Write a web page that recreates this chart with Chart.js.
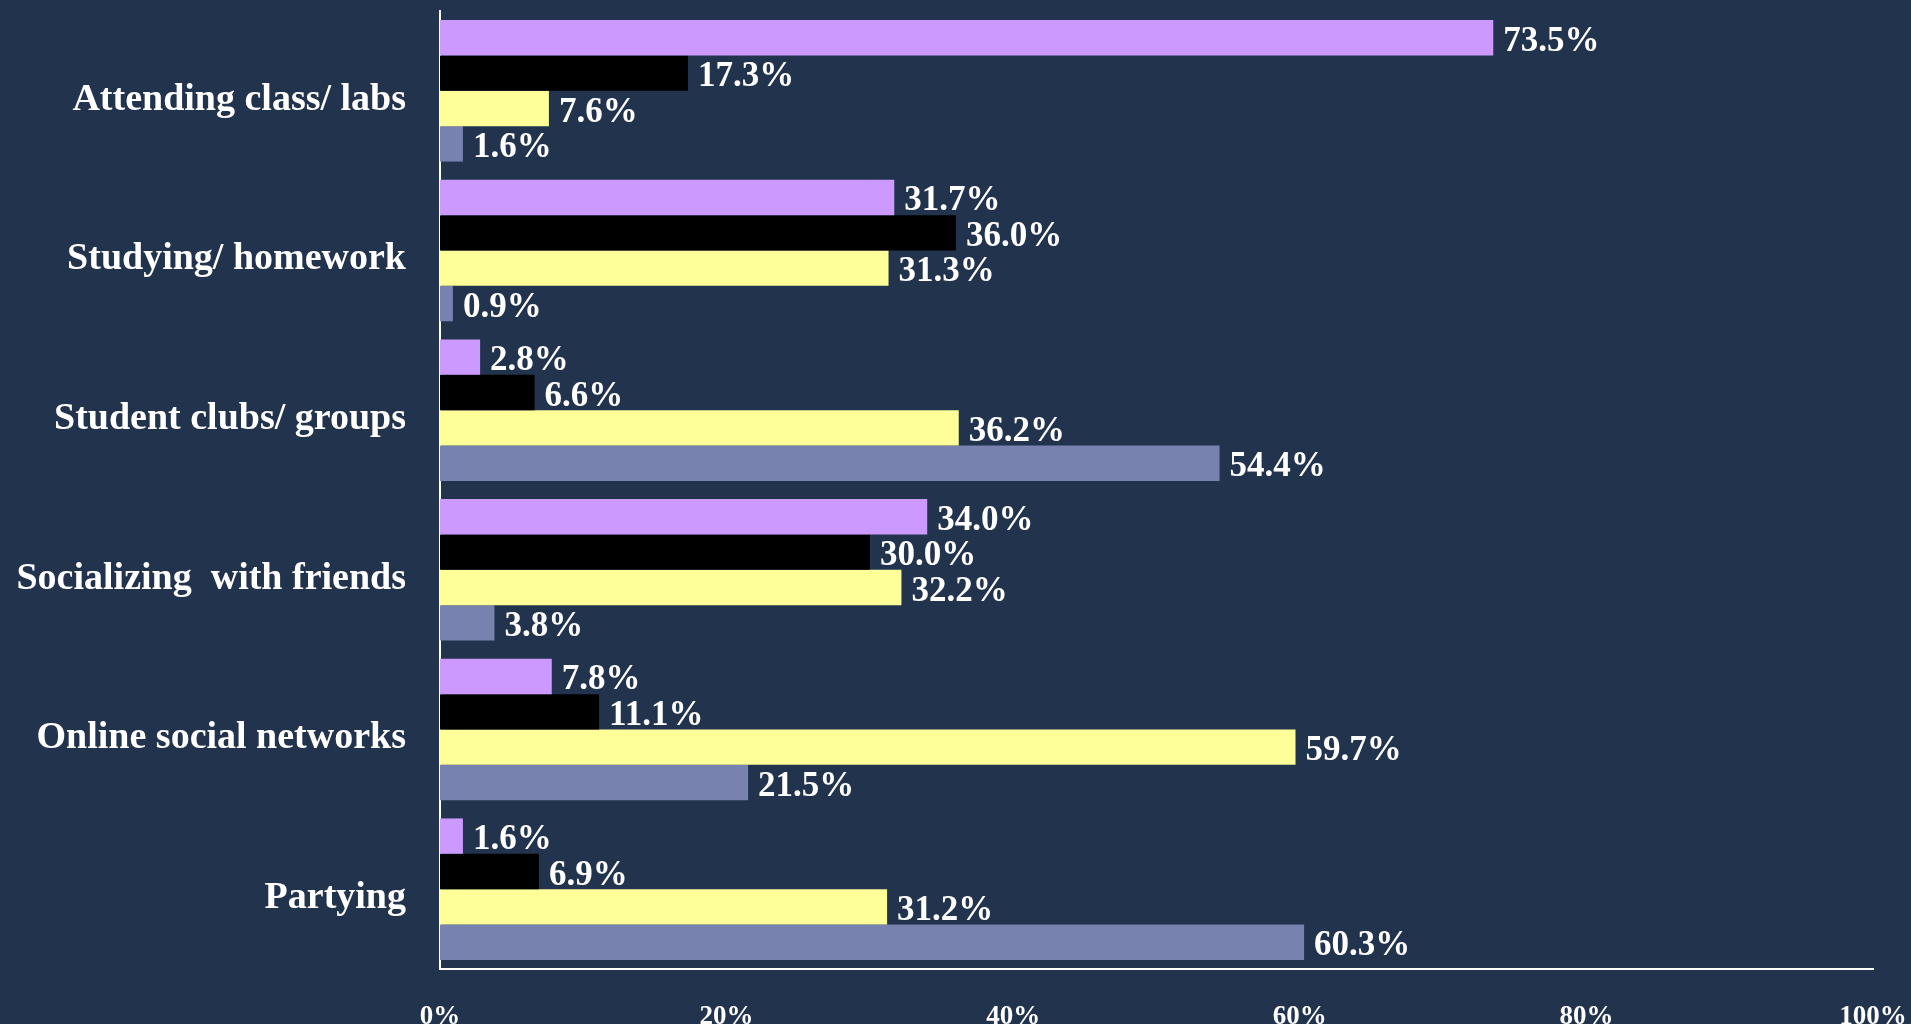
<!DOCTYPE html>
<html>
<head>
<meta charset="utf-8">
<script src="https://cdn.jsdelivr.net/npm/chart.js@4.4.1/dist/chart.umd.min.js"></script>
<style>
  html, body { margin: 0; padding: 0; background: #22334D; overflow: hidden; }
  canvas { display: block; }
</style>
</head>
<body>
<canvas id="c" width="1911" height="1024"></canvas>
<script>
const categories = [
  "Attending class/ labs",
  "Studying/ homework",
  "Student clubs/ groups",
  "Socializing  with friends",
  "Online social networks",
  "Partying"
];
const seriesNames = ["Series 1", "Series 2", "Series 3", "Series 4"];
const series1 = [73.5, 31.7, 2.8, 34.0, 7.8, 1.6];
const series2 = [17.3, 36.0, 6.6, 30.0, 11.1, 6.9];
const series3 = [7.6, 31.3, 36.2, 32.2, 59.7, 31.2];
const series4 = [1.6, 0.9, 54.4, 3.8, 21.5, 60.3];
const xTicks = [0, 20, 40, 60, 80, 100];

const colors = ["#CC99FF", "#000000", "#FFFF99", "#7782AE"];

const valueLabels = {
  id: "valueLabels",
  afterDatasetsDraw(chart) {
    const ctx = chart.ctx;
    ctx.save();
    ctx.fillStyle = "#FFFFFF";
    ctx.font = "bold 35px 'Liberation Serif', 'Times New Roman', serif";
    ctx.textAlign = "left";
    ctx.textBaseline = "middle";
    chart.data.datasets.forEach((ds, i) => {
      const meta = chart.getDatasetMeta(i);
      meta.data.forEach((el, j) => {
        const v = ds.data[j];
        ctx.fillText(v.toFixed(1) + "%", el.x + 10, el.y + 4);
      });
    });
    ctx.restore();
  }
};

new Chart(document.getElementById("c"), {
  type: "bar",
  data: {
    labels: categories,
    datasets: [series1, series2, series3, series4].map((d, i) => ({
      label: seriesNames[i],
      data: d,
      backgroundColor: colors[i],
      borderWidth: 0,
      barPercentage: 1.0,
      categoryPercentage: 0.886
    }))
  },
  options: {
    indexAxis: "y",
    responsive: false,
    animation: false,
    devicePixelRatio: 1,
    layout: { padding: { top: 11, right: 38, bottom: 0, left: 0 } },
    plugins: {
      legend: { display: false },
      tooltip: { enabled: false }
    },
    scales: {
      x: {
        min: 0,
        max: 100,
        afterBuildTicks(scale) {
          scale.ticks = xTicks.map(v => ({ value: v }));
        },
        afterFit(scale) {
          scale.height = 55;
          scale.paddingLeft = 0;
          scale.paddingRight = 0;
          scale.paddingTop = 0;
          scale.paddingBottom = 0;
        },
        grid: { display: false, drawTicks: false },
        border: { display: true, color: "#FFFFFF", width: 2 },
        ticks: {
          color: "#FFFFFF",
          padding: 32,
          maxRotation: 0,
          font: { family: "'Liberation Serif', 'Times New Roman', serif", size: 27, weight: "bold" },
          callback: (v) => v + "%"
        }
      },
      y: {
        afterFit(scale) {
          scale.width = 440;
          scale.paddingTop = 0;
          scale.paddingBottom = 0;
          scale.paddingLeft = 0;
          scale.paddingRight = 0;
        },
        grid: { display: false, drawTicks: false },
        border: { display: true, color: "#FFFFFF", width: 2 },
        ticks: {
          color: "#FFFFFF",
          padding: 34,
          labelOffset: 9,
          font: { family: "'Liberation Serif', 'Times New Roman', serif", size: 38, weight: "bold" }
        }
      }
    }
  },
  plugins: [valueLabels]
});
</script>
</body>
</html>
